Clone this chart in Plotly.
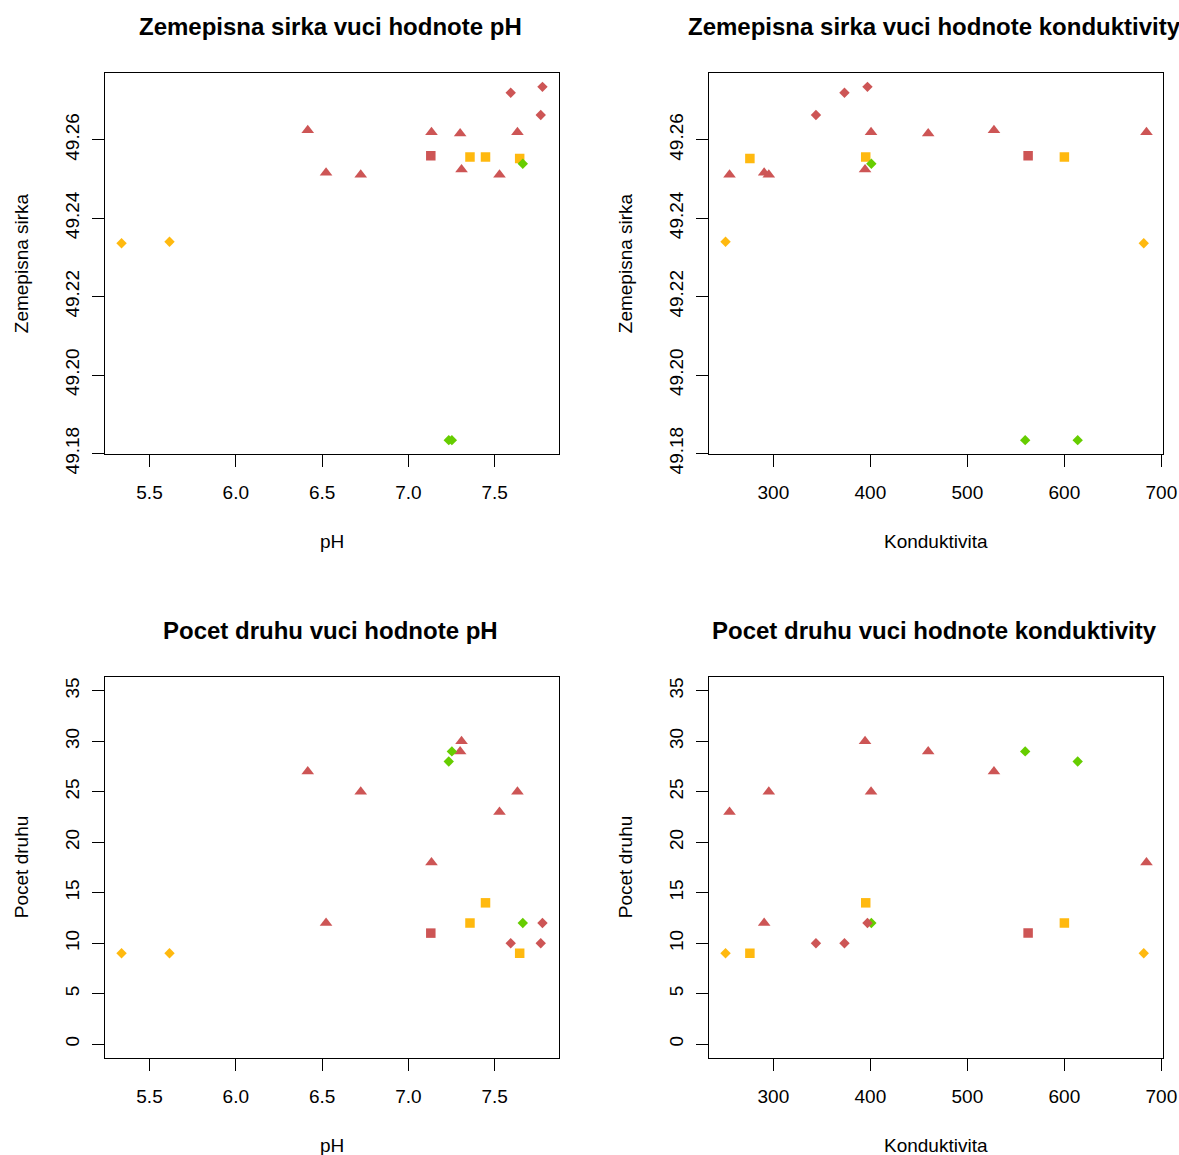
import plotly.graph_objects as go

# ---- data ----
ph = [5.338, 5.616, 6.417, 6.523, 6.724, 7.134, 7.300, 7.308, 7.528, 7.632,
      7.130, 7.357, 7.447, 7.645, 7.663, 7.234, 7.252, 7.593, 7.767, 7.777]
konduktivita = [681.8, 250.7, 527.4, 290.5, 295.3, 684.6, 459.6, 394.5, 254.8, 400.7,
                562.6, 600.0, 395.2, 275.8, 401.0, 613.7, 559.6, 373.3, 343.9, 397.0]
sirka = [49.2336, 49.2340, 49.2624, 49.2516, 49.2511, 49.2619, 49.2616, 49.2524, 49.2511, 49.2619,
         49.2559, 49.2556, 49.2556, 49.2552, 49.2539, 49.1834, 49.1834, 49.2720, 49.2663, 49.2735]
pocet_druhu = [9, 9, 27, 12, 25, 18, 29, 30, 23, 25,
               11, 12, 14, 9, 12, 28, 29, 10, 10, 12]
skupina_barva = ["orange", "orange", "red", "red", "red", "red", "red", "red", "red", "red",
                 "red", "orange", "orange", "orange", "green", "green", "green", "red", "red", "red"]
skupina_tvar = ["diamond", "diamond", "triangle", "triangle", "triangle", "triangle", "triangle",
                "triangle", "triangle", "triangle", "square", "square", "square", "square",
                "diamond", "diamond", "diamond", "diamond", "diamond", "diamond"]

titles = ["Zemepisna sirka vuci hodnote pH", "Zemepisna sirka vuci hodnote konduktivity",
          "Pocet druhu vuci hodnote pH", "Pocet druhu vuci hodnote konduktivity"]
x_titles = ["pH", "Konduktivita", "pH", "Konduktivita"]
y_titles = ["Zemepisna sirka", "Zemepisna sirka", "Pocet druhu", "Pocet druhu"]
pocet_ylim = [0, 35]

# ---- styles ----
COLORS = {"red": "#CD5555", "orange": "#FFB90F", "green": "#66CD00"}
SYMBOLS = {"triangle": "triangle-up", "square": "square", "diamond": "diamond"}
SIZES = {"triangle": 11, "square": 9.5, "diamond": 8}
FONT = "Liberation Sans, Arial, sans-serif"
W, H = 1179, 1155


def rlim(v):
    lo, hi = min(v), max(v)
    d = (hi - lo) * 0.04
    return [lo - d, hi + d]


def px_x(p):
    return p / W


def px_y(p):
    return 1 - p / H


colors = [COLORS[c] for c in skupina_barva]
symbols = [SYMBOLS[s] for s in skupina_tvar]
sizes = [SIZES[s] for s in skupina_tvar]

fig = go.Figure()

# panel geometry in pixels (left, right, top, bottom)
panels = [
    (104.7, 559.3, 72.7, 454.3),
    (708.7, 1163.3, 72.7, 454.3),
    (104.7, 559.3, 676.7, 1058.3),
    (708.7, 1163.3, 676.7, 1058.3),
]
xs = [ph, konduktivita, ph, konduktivita]
ys = [sirka, sirka, pocet_druhu, pocet_druhu]
yrange_pocet = [pocet_ylim[0] - 0.04 * (pocet_ylim[1] - pocet_ylim[0]),
                pocet_ylim[1] + 0.04 * (pocet_ylim[1] - pocet_ylim[0])]
xranges = [rlim(ph), rlim(konduktivita), rlim(ph), rlim(konduktivita)]
yranges = [rlim(sirka), rlim(sirka), yrange_pocet, yrange_pocet]
xticks = [dict(tick0=5.5, dtick=0.5, tickformat=".1f"),
          dict(tick0=300, dtick=100, tickformat="d"),
          dict(tick0=5.5, dtick=0.5, tickformat=".1f"),
          dict(tick0=300, dtick=100, tickformat="d")]
yticks = [dict(tick0=49.18, dtick=0.02, tickformat=".2f"),
          dict(tick0=49.18, dtick=0.02, tickformat=".2f"),
          dict(tick0=0, dtick=5, tickformat="d"),
          dict(tick0=0, dtick=5, tickformat="d")]

axis_common = dict(showgrid=False, zeroline=False, showline=True, mirror=True,
                   linecolor="black", linewidth=1, ticks="outside", ticklen=12,
                   tickwidth=1, tickcolor="black", automargin=False,
                   tickfont=dict(family=FONT, size=19, color="black"))

annotations = []
for i in range(4):
    k = "" if i == 0 else str(i + 1)
    l, r, t, b = panels[i]
    fig.add_trace(go.Scatter(
        x=xs[i], y=ys[i], mode="markers", xaxis="x" + k, yaxis="y" + k,
        marker=dict(color=colors, symbol=symbols, size=sizes, opacity=1,
                    line=dict(width=0)),
        showlegend=False, hoverinfo="x+y"))
    fig.layout["xaxis" + k] = dict(domain=[px_x(l), px_x(r)], anchor="y" + k,
                                   range=xranges[i], tickmode="linear",
                                   ticklabelstandoff=9, **xticks[i], **axis_common)
    fig.layout["yaxis" + k] = dict(domain=[px_y(b), px_y(t)], anchor="x" + k,
                                   range=yranges[i], tickmode="linear", tickangle=-90,
                                   ticklabelstandoff=5, **yticks[i], **axis_common)
    cx = (l + r) / 2
    cy = (t + b) / 2
    annotations.append(dict(text="<b>" + titles[i] + "</b>", x=px_x(cx - 2), y=px_y(t - 46),
                            xref="paper", yref="paper", showarrow=False,
                            xanchor="center", yanchor="middle",
                            font=dict(family=FONT, size=24, color="black")))
    annotations.append(dict(text=x_titles[i], x=px_x(cx), y=px_y(b + 87),
                            xref="paper", yref="paper", showarrow=False,
                            xanchor="center", yanchor="middle",
                            font=dict(family=FONT, size=19, color="black")))
    annotations.append(dict(text=y_titles[i], x=px_x(l - 83), y=px_y(cy),
                            xref="paper", yref="paper", showarrow=False, textangle=-90,
                            xanchor="center", yanchor="middle",
                            font=dict(family=FONT, size=19, color="black")))

fig.update_layout(width=W, height=H, margin=dict(l=0, r=0, t=0, b=0),
                  paper_bgcolor="white", plot_bgcolor="white",
                  annotations=annotations, showlegend=False)

fig.write_html("out.html", config={"displayModeBar": False},
               post_script="document.body.style.margin='0px';"
                           "document.body.style.overflow='hidden';")
